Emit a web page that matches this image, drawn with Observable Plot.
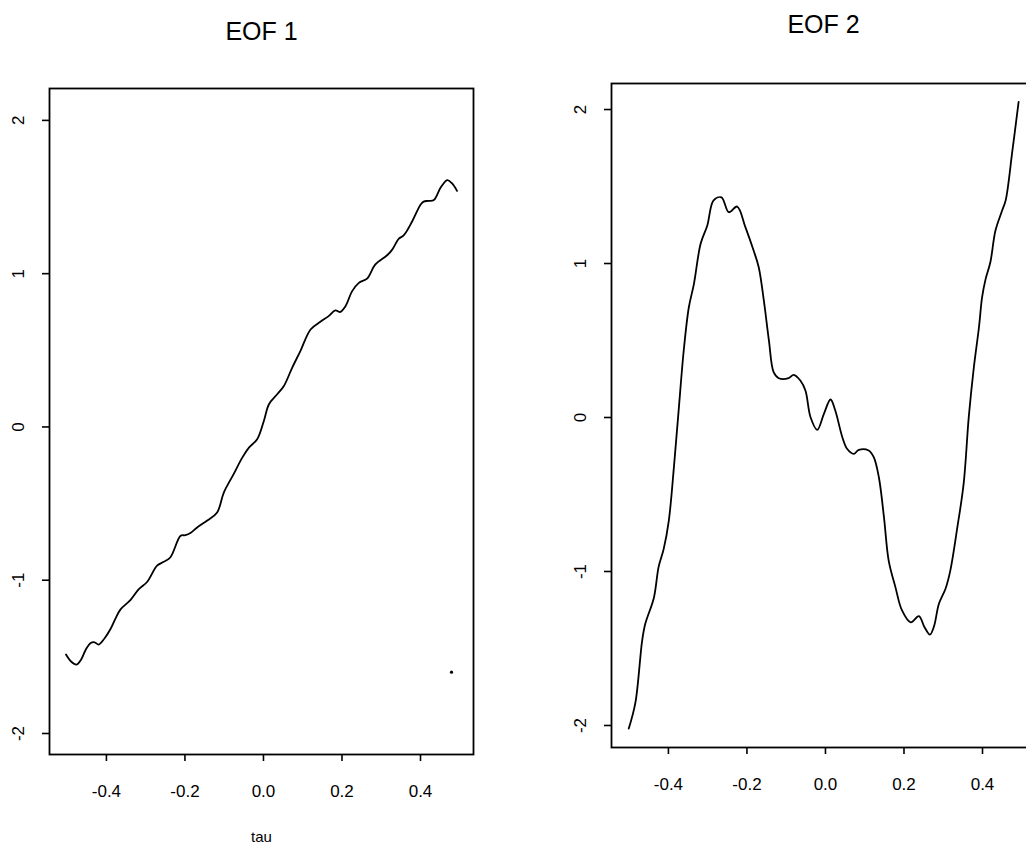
<!DOCTYPE html>
<html>
<head>
<meta charset="utf-8">
<script src="https://cdn.jsdelivr.net/npm/d3@7"></script>
<script src="https://cdn.jsdelivr.net/npm/@observablehq/plot@0.6"></script>
<style>
  body { margin: 0; background: #fff; }
  #wrap { position: relative; width: 1026px; height: 844px; overflow: hidden; background: #fff; }
  #wrap svg { position: absolute; top: 0; }
</style>
</head>
<body>
<div id="wrap"></div>
<script>
// ---- Data ----
const titles = ["EOF 1", "EOF 2"];
const xLabel = "tau";
const xTicks = [-0.4, -0.2, 0.0, 0.2, 0.4];
const yTicks = [-2, -1, 0, 1, 2];

const tau1 = [-0.503, -0.49, -0.476, -0.465, -0.452, -0.44, -0.43, -0.42, -0.405, -0.39, -0.377, -0.364, -0.339, -0.318, -0.296, -0.271, -0.254, -0.237, -0.211, -0.199, -0.185, -0.169, -0.143, -0.118, -0.101, -0.076, -0.054, -0.037, -0.016, 0.001, 0.014, 0.035, 0.052, 0.073, 0.094, 0.12, 0.145, 0.166, 0.183, 0.196, 0.209, 0.226, 0.243, 0.264, 0.285, 0.315, 0.328, 0.345, 0.357, 0.379, 0.4, 0.408, 0.42, 0.434, 0.451, 0.468, 0.48, 0.493];
const eof1 = [-1.485, -1.53, -1.55, -1.52, -1.45, -1.41, -1.405, -1.42, -1.38, -1.32, -1.25, -1.19, -1.13, -1.06, -1.01, -0.905, -0.88, -0.85, -0.71, -0.706, -0.69, -0.656, -0.61, -0.558, -0.428, -0.308, -0.2, -0.135, -0.08, 0.039, 0.148, 0.213, 0.267, 0.386, 0.495, 0.636, 0.686, 0.723, 0.76, 0.75, 0.788, 0.886, 0.94, 0.968, 1.06, 1.12, 1.157, 1.229, 1.249, 1.342, 1.45, 1.47, 1.475, 1.48, 1.56, 1.61, 1.59, 1.54];

const tau2 = [-0.501, -0.484, -0.467, -0.459, -0.437, -0.425, -0.412, -0.399, -0.386, -0.374, -0.361, -0.348, -0.335, -0.318, -0.301, -0.285, -0.265, -0.246, -0.225, -0.204, -0.183, -0.17, -0.157, -0.144, -0.132, -0.119, -0.094, -0.081, -0.064, -0.051, -0.038, -0.021, -0.004, 0.013, 0.025, 0.043, 0.055, 0.072, 0.085, 0.11, 0.123, 0.136, 0.149, 0.161, 0.178, 0.195, 0.217, 0.238, 0.252, 0.266, 0.276, 0.289, 0.306, 0.318, 0.336, 0.352, 0.365, 0.378, 0.391, 0.399, 0.408, 0.42, 0.433, 0.45, 0.459, 0.476, 0.492];
const eof2 = [-2.02, -1.85, -1.45, -1.34, -1.17, -0.97, -0.853, -0.669, -0.322, 0.045, 0.435, 0.716, 0.868, 1.128, 1.247, 1.41, 1.43, 1.333, 1.37, 1.236, 1.084, 0.976, 0.76, 0.5, 0.294, 0.255, 0.255, 0.277, 0.24, 0.175, 0.002, -0.08, 0.024, 0.117, 0.045, -0.128, -0.203, -0.236, -0.21, -0.214, -0.258, -0.388, -0.647, -0.929, -1.10, -1.253, -1.33, -1.29, -1.36, -1.41, -1.36, -1.21, -1.11, -0.994, -0.712, -0.43, 0.002, 0.327, 0.586, 0.781, 0.9, 1.008, 1.214, 1.344, 1.41, 1.73, 2.05];

// stray mark visible in the left panel of the scan
const speckTau = [0.479];
const speckVal = [-1.6];

// ---- Build ----
const font = "'Liberation Sans', Arial, Helvetica, sans-serif";
const xDomain = [-0.545, 0.535];

function panel(t, v, opts) {
  const rows = t.map((x, i) => ({ tau: x, v: v[i] }));
  const marks = [
    Plot.frame({ stroke: "#000", strokeWidth: 1.8 }),
    Plot.axisX({ ticks: xTicks, tickSize: 7, tickPadding: 23, tickFormat: d => d.toFixed(1), fontSize: 17, label: null, stroke: "#000", strokeWidth: 1.6 }),
    Plot.axisY({ ticks: yTicks, tickSize: 7, tickPadding: 19, tickRotate: -90, tickFormat: d => String(d), fontSize: 17, label: null, stroke: "#000", strokeWidth: 1.6 }),
    Plot.line(rows, { x: "tau", y: "v", curve: "catmull-rom", stroke: "#000", strokeWidth: 1.8 }),
    Plot.text([opts.title], { frameAnchor: "top", dy: opts.titleDy, fontSize: 25, fill: "#000", lineAnchor: "middle" })
  ];
  if (opts.xlab) marks.push(Plot.text([opts.xlab], { frameAnchor: "bottom", dy: 83, fontSize: 15, fill: "#000", lineAnchor: "middle" }));
  if (opts.speck) marks.push(Plot.dot(opts.speck.t.map((x, i) => ({ tau: x, v: opts.speck.v[i] })), { x: "tau", y: "v", r: 1.6, fill: "#000", stroke: null }));
  return Plot.plot({
    width: opts.width, height: 844,
    marginLeft: opts.ml, marginRight: opts.mr, marginTop: opts.mt, marginBottom: opts.mb,
    style: { fontFamily: font, color: "#000", background: "transparent", overflow: "visible" },
    x: { domain: xDomain },
    y: { domain: opts.yDomain },
    marks
  });
}

const left = panel(tau1, eof1, { width: 513, ml: 49, mr: 40, mt: 88, mb: 90, yDomain: [-2.137, 2.208], title: titles[0], titleDy: -57, xlab: xLabel, speck: { t: speckTau, v: speckVal } });
const right = panel(tau2, eof2, { width: 530, ml: 98, mr: 8, mt: 83, mb: 97, yDomain: [-2.143, 2.169], title: titles[1], titleDy: -59 });
left.style.left = "0px";
right.style.left = "513px";
const wrap = document.getElementById("wrap");
wrap.appendChild(left);
wrap.appendChild(right);
</script>
</body>
</html>
